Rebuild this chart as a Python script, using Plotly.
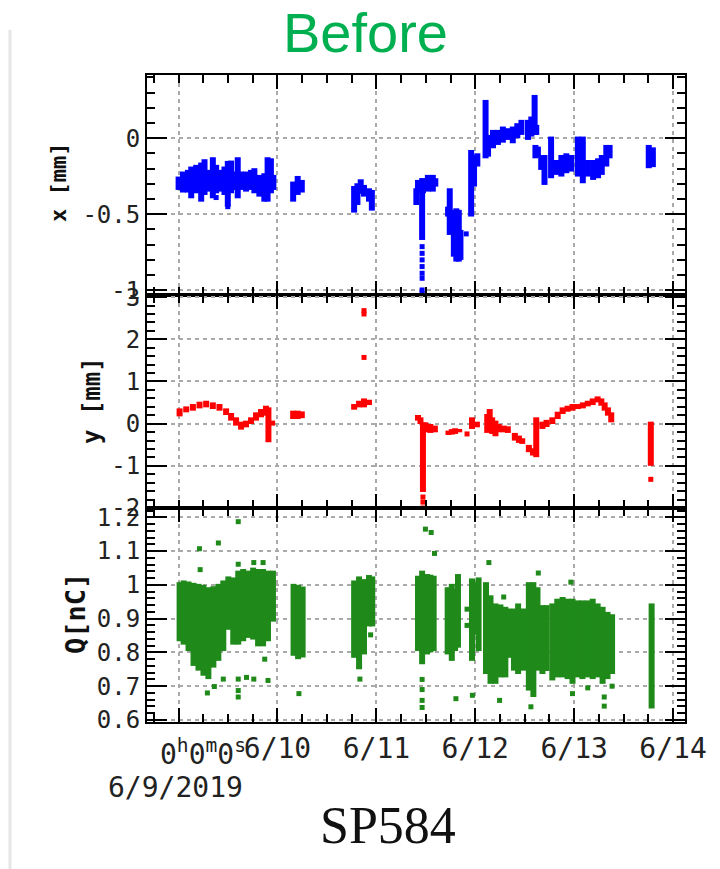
import plotly.graph_objects as go
from plotly.subplots import make_subplots

# ---------------- data (hours since 2019-06-09 00:00) ----------------
# Panel 1: x position [mm] – sampled band envelopes
x_t = [0.0, 1.05, 2.26, 3.06, 4.27, 5.48, 6.29, 7.10, 8.31, 9.11, 9.92, 11.13, 11.94, 12.74,
       13.55, 14.35, 15.16, 16.37, 17.58, 18.39, 19.6, 20.8, 21.6, 22.4, 23.0,
       27.8, 28.9, 29.9,
       42.6, 43.4, 44.2, 45.0, 46.2, 46.9,
       57.7, 58.1, 59.1, 59.3, 60.5, 61.7, 62.3,
       65.4, 65.8, 66.3, 66.8, 67.4, 68.0, 68.4,
       71.0, 71.7, 72.5,
       74.5, 75.1, 76.3, 77.5, 78.7, 79.8,
       81.1, 82.2, 83.2,
       84.8, 85.6, 86.4, 86.8, 86.6, 87.2,
       88.0, 88.8,
       90.4, 91.7, 92.9, 94.1, 95.3, 96.9, 98.1, 99.3, 100.6, 101.8, 102.7, 103.8, 104.6,
       114.1, 115.1]
x_hi = [-0.252, -0.219, -0.208, -0.186, -0.175, -0.160, -0.138, -0.208, -0.125, -0.175, -0.208, -0.186, -0.149, -0.147,
        -0.219, -0.125, -0.219, -0.219, -0.208, -0.197, -0.241, -0.230, -0.125, -0.132, -0.241,
        -0.285, -0.248, -0.274,
        -0.314, -0.296, -0.270, -0.307, -0.329, -0.340,
        -0.329, -0.274, -0.263, -0.263, -0.241, -0.241, -0.263,
        -0.450, -0.329, -0.482, -0.471, -0.461, -0.471, -0.603,
        -0.077, -0.110, -0.099,
        0.252, 0.022, 0.055, 0.055, 0.077, 0.066,
        0.077, 0.099, 0.121,
        0.121, 0.143, 0.285, 0.088, -0.044, -0.055,
        -0.110, -0.110,
        0.011, -0.143, -0.110, -0.099, -0.110, 0.011, 0.011, -0.143, -0.143, -0.132, -0.110, -0.044, -0.044,
        -0.044, -0.060]
x_lo = [-0.340, -0.357, -0.357, -0.395, -0.362, -0.417, -0.373, -0.351, -0.395, -0.362, -0.351, -0.373, -0.450, -0.362,
        -0.340, -0.395, -0.340, -0.351, -0.340, -0.362, -0.384, -0.417, -0.417, -0.362, -0.340,
        -0.417, -0.373, -0.357,
        -0.489, -0.439, -0.366, -0.384, -0.417, -0.476,
        -0.439, -0.362, -0.669, -0.362, -0.351, -0.351, -0.318,
        -0.515, -0.636, -0.537, -0.779, -0.811, -0.811, -0.800,
        -0.515, -0.318, -0.186,
        -0.132, -0.121, -0.066, -0.044, -0.029, -0.011,
        -0.033, 0.000, 0.022,
        -0.011, 0.011, 0.022, 0.022, -0.132, -0.121,
        -0.208, -0.307,
        -0.263, -0.241, -0.252, -0.230, -0.219, -0.252, -0.296, -0.252, -0.274, -0.263, -0.241, -0.186, -0.132,
        -0.197, -0.190]
x_out_t = [59.1, 59.1, 59.1, 59.1, 59.1, 59.1, 59.1, 59.1, 69.8, 11.94, 9.11]
x_out_v = [-0.713, -0.757, -0.800, -0.844, -0.888, -0.921, -0.998, -1.020, -0.629, -0.450, -0.390]

# Panel 2: y position [mm]
y_t = [0.24, 1.85, 3.47, 5.08, 6.69, 8.31, 9.92, 11.53, 12.74, 13.95, 15.16, 16.37, 17.58, 18.79, 20.0, 21.2, 21.8, 22.7,
       27.8, 28.9, 29.9,
       42.6, 43.8, 45.0, 46.2,
       58.1, 58.7, 59.3, 59.9, 61.1, 62.2,
       65.5, 66.3, 67.1, 68.1,
       71.2, 72.4,
       74.9, 75.5, 76.1, 76.9, 77.7, 78.9, 79.9,
       81.6, 82.6, 83.4,
       85.0, 86.0, 86.8,
       88.3, 89.3,
       90.7, 92.0, 93.2, 94.4, 95.6, 96.9, 98.1, 99.3, 100.5, 101.7, 102.6, 103.4, 104.2, 105.0,
       114.6]
y_hi = [0.362, 0.409, 0.465, 0.520, 0.543, 0.504, 0.465, 0.362, 0.252, 0.150, 0.047, 0.071, 0.150, 0.268, 0.346, 0.425, 0.386, 0.071,
        0.307, 0.307, 0.290,
        0.465, 0.543, 0.598, 0.567,
        0.205, 0.150, 0.031, 0.031, -0.008, -0.047,
        -0.165, -0.130, -0.110, -0.126,
        0.150, 0.047,
        0.228, 0.346, 0.150, 0.071, -0.008, -0.047, -0.063,
        -0.220, -0.283, -0.346,
        -0.504, -0.583, 0.150,
        0.047, 0.090,
        0.150, 0.283, 0.386, 0.425, 0.465, 0.465, 0.504, 0.543, 0.598, 0.646, 0.598, 0.504, 0.386, 0.268,
        0.047]
y_lo = [0.173, 0.268, 0.307, 0.362, 0.386, 0.346, 0.307, 0.205, 0.071, -0.047, -0.142, -0.087, -0.008, 0.071, 0.150, 0.189, -0.441, -0.047,
        0.110, 0.110, 0.130,
        0.331, 0.386, 0.386, 0.441,
        0.071, -0.008, -1.620, -0.205, -0.220, -0.205,
        -0.268, -0.260, -0.244, -0.205,
        -0.126, -0.087,
        -0.220, -0.165, -0.244, -0.299, -0.205, -0.205, -0.220,
        -0.402, -0.457, -0.480,
        -0.677, -0.756, -0.795,
        -0.126, -0.080,
        -0.008, 0.110, 0.228, 0.283, 0.307, 0.346, 0.362, 0.409, 0.441, 0.504, 0.425, 0.307, 0.189, 0.031,
        -1.000]
y_out_t = [45.0, 45.0, 45.0, 59.3, 59.3, 59.3, 70.0, 114.6]
y_out_v = [2.68, 2.60, 1.57, -1.74, -1.86, -2.00, -0.244, -1.32]

# Panel 3: bunch charge Q [nC]
q_t = [0.24, 1.21, 2.41, 3.62, 4.82, 6.03, 7.23, 8.44, 9.65, 10.85, 12.06, 13.26, 14.47, 15.68, 16.88, 18.09, 19.29, 20.5, 21.7, 22.9,
       27.9, 29.0, 30.1,
       42.6, 43.8, 45.0,
       46.2, 47.0,
       58.1, 59.1, 60.3, 61.1, 61.9,
       65.3, 66.3, 67.1, 67.8,
       71.2, 72.2, 72.8,
       74.6, 75.7, 76.9, 78.1, 79.3, 80.0,
       81.4, 82.4, 83.6,
       85.0, 86.1, 87.1,
       88.3, 89.3,
       90.7, 91.9, 93.2, 94.4, 95.6, 96.8, 98.0, 99.3, 100.5, 101.7, 102.9, 104.1, 105.2,
       114.8]
q_hi = [1.008, 1.013, 1.010, 1.006, 1.003, 1.000, 0.993, 0.996, 1.003, 1.013, 1.025, 1.022, 1.042, 1.047, 1.042, 1.051, 1.047, 1.047, 1.042, 1.042,
        1.003, 1.000, 0.995,
        1.013, 1.025, 1.017,
        1.029, 1.025,
        1.027, 1.042, 1.032, 1.030, 1.027,
        0.993, 1.003, 0.988, 1.032,
        1.019, 1.008, 1.022,
        1.008, 0.969, 0.945, 0.942, 0.935, 0.930,
        0.930, 0.945, 0.930,
        1.008, 1.008, 0.993,
        0.940, 0.940,
        0.945, 0.959, 0.964, 0.959, 0.959, 0.954, 0.954, 0.954, 0.959, 0.945, 0.935, 0.920, 0.913,
        0.945]
q_lo = [0.833, 0.823, 0.804, 0.760, 0.746, 0.731, 0.721, 0.755, 0.775, 0.804, 0.867, 0.823, 0.823, 0.833, 0.843, 0.838, 0.818, 0.818, 0.833, 0.891,
        0.790, 0.780, 0.785,
        0.784, 0.750, 0.794,
        0.877, 0.877,
        0.804, 0.765, 0.794, 0.800, 0.804,
        0.794, 0.775, 0.804, 0.814,
        0.775, 0.852, 0.804,
        0.736, 0.707, 0.707, 0.726, 0.726, 0.784,
        0.746, 0.736, 0.746,
        0.687, 0.668, 0.746,
        0.736, 0.745,
        0.717, 0.726, 0.726, 0.721, 0.707, 0.726, 0.721, 0.726, 0.721, 0.726, 0.707, 0.721, 0.736,
        0.634]
q_out_t = [5.06, 5.23, 9.65, 14.47, 14.47, 18.25, 20.5, 6.99, 8.68, 10.85, 14.47, 14.47, 14.47, 16.48, 18.25, 21.7, 20.9,
           29.2, 44.0, 46.6, 59.1, 59.1, 59.1, 59.1, 59.9, 61.3, 62.1, 67.3, 70.0, 70.0, 71.3,
           75.3, 78.9, 77.9, 85.5, 87.3, 95.2, 103.3, 103.3, 105.2, 99.3, 95.6]
q_out_v = [1.107, 1.045, 1.124, 1.187, 1.061, 1.066, 1.066, 0.680, 0.699, 0.721, 0.721, 0.687, 0.668, 0.726, 0.721, 0.717, 0.780,
           0.678, 0.721, 0.852, 0.720, 0.690, 0.658, 0.637, 1.165, 1.155, 1.093, 0.663, 0.928, 0.880, 0.673,
           1.066, 0.964, 0.658, 0.639, 1.035, 1.008, 0.668, 0.641, 0.700, 0.695, 0.678]

# tick labels
day_vals = [0, 24, 48, 72, 96, 120]
day_text = ["", "6/10", "6/11", "6/12", "6/13", "6/14"]
x_tickv = [-1, -0.5, 0]
x_tickt = ["-1", "-0.5", "0"]
y_tickv = [-2, -1, 0, 1, 2, 3]
y_tickt = ["-2", "-1", "0", "1", "2", "3"]
q_tickv = [0.6, 0.7, 0.8, 0.9, 1.0, 1.1, 1.2]
q_tickt = ["0.6", "0.7", "0.8", "0.9", "1", "1.1", "1.2"]

# ---------------- figure ----------------
W, H = 720, 869
fig = make_subplots(rows=3, cols=1)


def segs(t, lo, hi):
    xs, ys = [], []
    for a, b, c in zip(t, lo, hi):
        xs += [a, a, None]
        ys += [b, c, None]
    return xs, ys


panels = [
    (x_t, x_lo, x_hi, x_out_t, x_out_v, "#0000ff"),
    (y_t, y_lo, y_hi, y_out_t, y_out_v, "#ff0000"),
    (q_t, q_lo, q_hi, q_out_t, q_out_v, "#1f8a1a"),
]
for i, (t, lo, hi, ot, ov, col) in enumerate(panels, start=1):
    sx, sy = segs(t, lo, hi)
    fig.add_trace(go.Scatter(x=sx, y=sy, mode="lines", line=dict(color=col, width=6),
                             showlegend=False, hoverinfo="skip"), row=i, col=1)
    fig.add_trace(go.Scatter(x=ot, y=ov, mode="markers",
                             marker=dict(color=col, size=5, symbol="square", line=dict(width=0)),
                             showlegend=False), row=i, col=1)

px_l, px_r = 147, 685
tops = [75, 295, 508]
bots = [295, 508, 722]

tickfont = dict(family="DejaVu Sans Mono", size=24, color="#222")
common = dict(showline=True, linecolor="black", linewidth=2, mirror="allticks",
              ticks="inside", tickcolor="black", tickwidth=2, automargin=False,
              showgrid=True, gridcolor="#a9a9a9", griddash="4px,4px", gridwidth=1.5,
              zeroline=False)

for i in range(3):
    xa = "xaxis" if i == 0 else f"xaxis{i+1}"
    ya = "yaxis" if i == 0 else f"yaxis{i+1}"
    fig.layout[xa].update(domain=[px_l / W, px_r / W], range=[-7.67, 122.9],
                          tickmode="array", tickvals=day_vals, ticktext=day_text,
                          ticklen=14, showticklabels=(i == 2),
                          tickfont=dict(family="DejaVu Sans Mono", size=28, color="#222"),
                          minor=dict(ticks="inside", ticklen=8, dtick=6, tick0=0,
                                     tickcolor="black", tickwidth=1.5, showgrid=False),
                          **common)
    fig.layout[ya].update(domain=[1 - bots[i] / H, 1 - tops[i] / H], ticklen=20, tickfont=tickfont,
                          **common)

fig.layout.yaxis.update(range=[-1.031, 0.416], tickmode="array", tickvals=x_tickv, ticktext=x_tickt,
                        minor=dict(ticks="inside", ticklen=8, dtick=0.1, tick0=0, tickcolor="black",
                                   tickwidth=1.5, showgrid=False))
fig.layout.yaxis2.update(range=[-2.0, 3.05], tickmode="array", tickvals=y_tickv, ticktext=y_tickt,
                         minor=dict(ticks="inside", ticklen=8, dtick=0.2, tick0=0, tickcolor="black",
                                    tickwidth=1.5, showgrid=False))
fig.layout.yaxis3.update(range=[0.594, 1.2275], tickmode="array", tickvals=q_tickv, ticktext=q_tickt,
                         minor=dict(ticks="inside", ticklen=8, dtick=0.02, tick0=0, tickcolor="black",
                                    tickwidth=1.5, showgrid=False))

ann = [
    dict(text="Before", x=365 / W, y=1 - 33 / H, font=dict(family="Liberation Sans", size=56, color="#00b050")),
    dict(text="<b>x [mm]</b>", x=58 / W, y=1 - 183 / H, textangle=-90,
         font=dict(family="DejaVu Sans Mono", size=22, color="#111")),
    dict(text="<b>y [mm]</b>", x=92 / W, y=1 - 401 / H, textangle=-90,
         font=dict(family="DejaVu Sans Mono", size=24, color="#111")),
    dict(text="<b>Q[nC]</b>", x=75 / W, y=1 - 614 / H, textangle=-90,
         font=dict(family="DejaVu Sans Mono", size=27, color="#111")),
    dict(text="0<sup>h</sup>0<sup>m</sup>0<sup>s</sup>", x=158 / W, y=1 - 752 / H, xanchor="left",
         font=dict(family="DejaVu Sans Mono", size=28, color="#222")),
    dict(text="6/9/2019", x=175 / W, y=1 - 787 / H,
         font=dict(family="DejaVu Sans Mono", size=28, color="#222")),
    dict(text="SP584", x=388 / W, y=1 - 825 / H,
         font=dict(family="Liberation Serif", size=52, color="#111")),
]
for a in ann:
    a.setdefault("xanchor", "center")
    fig.add_annotation(xref="paper", yref="paper", yanchor="middle", showarrow=False, **a)

fig.add_shape(type="line", xref="paper", yref="paper", x0=10 / W, x1=10 / W, y0=0, y1=1 - 30 / H,
              line=dict(color="#e6e6e6", width=3))

fig.update_layout(width=W, height=H, margin=dict(l=0, r=0, t=0, b=0),
                  paper_bgcolor="white", plot_bgcolor="white")
fig.write_html("out.html")
